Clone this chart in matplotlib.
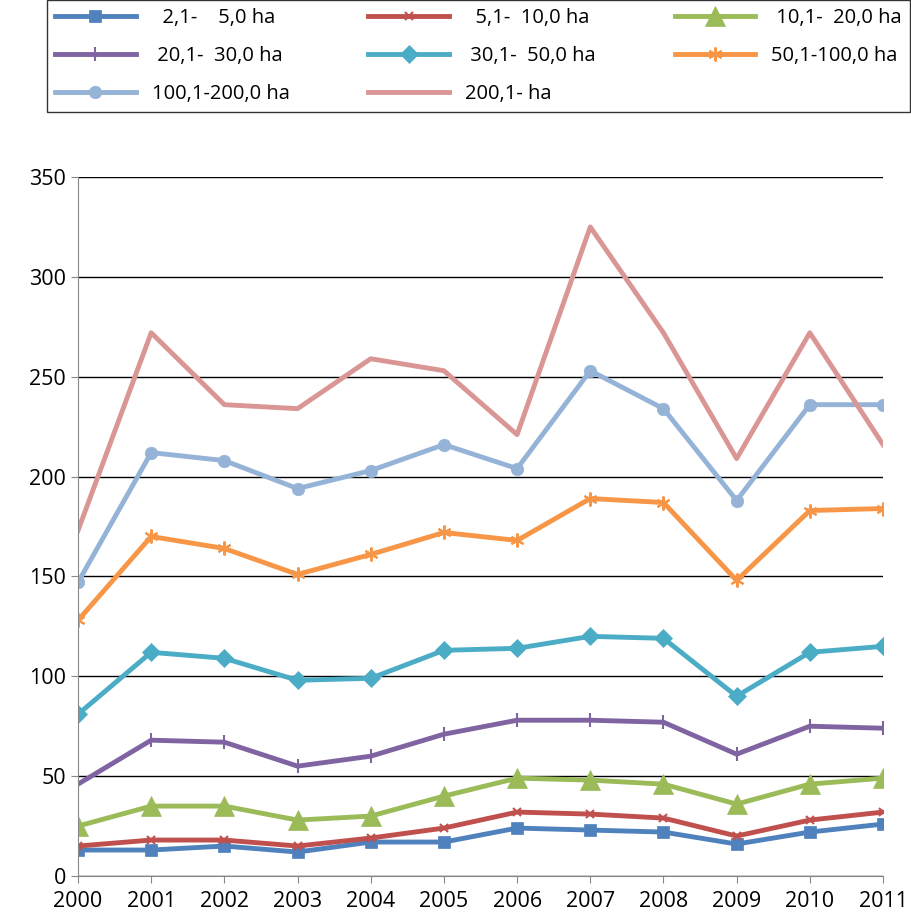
import matplotlib
matplotlib.use("Agg")
import matplotlib.pyplot as plt

plt.rcParams['font.family'] = ['Open Sans', 'DejaVu Sans']

years = list(range(2000, 2012))
labels = ["  2,1-    5,0 ha", "  5,1-  10,0 ha", " 10,1-  20,0 ha",
          " 20,1-  30,0 ha", " 30,1-  50,0 ha", "50,1-100,0 ha",
          "100,1-200,0 ha", "200,1- ha"]
s1 = [13, 13, 15, 12, 17, 17, 24, 23, 22, 16, 22, 26]
s2 = [15, 18, 18, 15, 19, 24, 32, 31, 29, 20, 28, 32]
s3 = [25, 35, 35, 28, 30, 40, 49, 48, 46, 36, 46, 49]
s4 = [46, 68, 67, 55, 60, 71, 78, 78, 77, 61, 75, 74]
s5 = [81, 112, 109, 98, 99, 113, 114, 120, 119, 90, 112, 115]
s6 = [128, 170, 164, 151, 161, 172, 168, 189, 187, 148, 183, 184]
s7 = [147, 212, 208, 194, 203, 216, 204, 253, 234, 188, 236, 236]
s8 = [173, 272, 236, 234, 259, 253, 221, 325, 272, 209, 272, 216]
series = [s1, s2, s3, s4, s5, s6, s7, s8]

colors = ['#4F81BD', '#C0504D', '#9BBB59', '#8064A2', '#4BACC6', '#F79646', '#95B3D7', '#D99694']
markers = ['s', 'x', '^', '|', 'D', (6, 2, 0), 'o', None]
msizes = [8, 6, 14, 10, 9, 10, 9, 0]

fig = plt.figure(figsize=(9.11, 9.19), dpi=100)
ax = fig.add_axes([78/911, 43/919, 805/911, 699/919])

handles = []
for vals, lab, c, m, ms in zip(series, labels, colors, markers, msizes):
    h, = ax.plot(years, vals, color=c, lw=3.5, marker=m, markersize=ms,
                 markeredgewidth=1.5 if m in ('x', '|', (6, 2, 0)) else 0.5,
                 markeredgecolor=c, label=lab)
    handles.append(h)

ax.set_xlim(2000, 2011)
ax.set_ylim(0, 350)
ax.set_yticks(range(0, 351, 50))
ax.set_xticks(years)
ax.yaxis.grid(True, color='black', lw=1)
ax.set_axisbelow(True)
for sp in ['top', 'right']:
    ax.spines[sp].set_visible(False)
ax.spines['left'].set_color('#888888')
ax.spines['bottom'].set_color('#888888')
ax.tick_params(labelsize=15.5, length=5, color='#888888')
ax.tick_params(axis='x', pad=6)

# row-wise legend order
order = [0, 3, 6, 1, 4, 7, 2, 5]
fig.legend(handles=[handles[i] for i in order], loc='upper left',
           bbox_to_anchor=(47/911, 1.0, 863/911, 0),
           mode='expand', ncol=3, fontsize=14.5, frameon=True, fancybox=False,
           edgecolor='black', handlelength=4, borderaxespad=0, columnspacing=1,
           labelspacing=0.9, borderpad=0.4)

fig.savefig("out.png", dpi=100)
